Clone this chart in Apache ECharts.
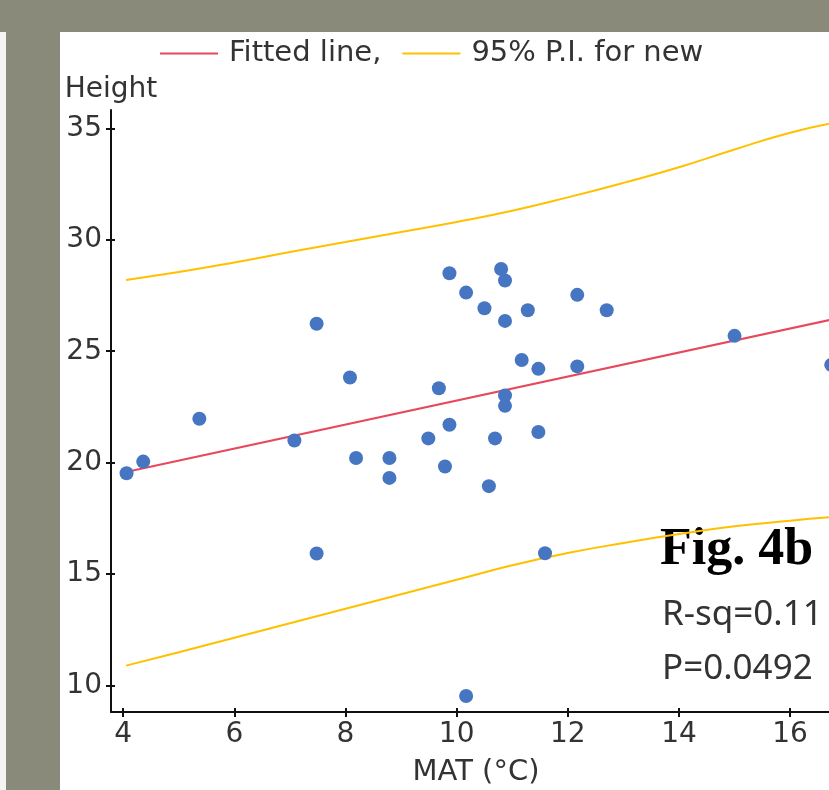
<!DOCTYPE html>
<html>
<head>
<meta charset="utf-8">
<script src="https://cdn.jsdelivr.net/npm/echarts@6/dist/echarts.min.js"></script>
<style>
  html, body { margin: 0; padding: 0; }
  body { width: 829px; height: 790px; background: #8a8a7a; position: relative; overflow: hidden; }
  .panel { position: absolute; left: 60px; top: 32px; right: 0; bottom: 0; background: #fff; }
  .edge { position: absolute; left: 0; top: 32px; width: 6px; bottom: 0; background: #f4f4f2; }
  #chart { position: absolute; left: 0; top: 0; width: 829px; height: 790px; }
</style>
</head>
<body>
<div class="edge"></div>
<div class="panel"></div>
<div id="chart"></div>
<script>
// observed points: MAT (°C) vs height
var matX = [4.06, 4.36, 5.37, 7.08, 7.48, 7.48, 8.08, 8.19, 8.79, 8.79, 9.49, 9.68, 9.87, 9.87, 9.79,
  10.17, 10.17, 10.5, 10.69, 10.58, 10.8, 10.87, 10.87, 10.87, 10.87, 11.17, 11.28, 11.47, 11.47,
  11.59, 12.17, 12.17, 12.7, 15.0, 16.74]
var heightY = [19.53, 20.05, 21.97, 21.0, 26.23, 15.93, 23.82, 20.21, 20.21, 19.32, 21.09, 23.34, 28.5, 21.7, 19.83,
  27.63, 9.54, 26.93, 21.09, 18.95, 28.69, 28.17, 26.36, 23.02, 22.55, 24.61, 26.84, 24.21, 21.38,
  15.94, 27.53, 24.32, 26.84, 25.69, 24.39]

// fitted line
var fitX = [4.05, 16.8]
var fitY = [19.58, 26.45]

// prediction interval
var piX = [4.05, 5, 6, 7, 8, 9, 10, 11, 12, 13, 14, 15, 16, 16.8]
var piUpper = [28.2, 28.55, 28.98, 29.45, 29.9, 30.35, 30.8, 31.3, 31.9, 32.55, 33.25, 34.05, 34.8, 35.25]
var piLower = [10.9, 11.5, 12.15, 12.8, 13.45, 14.1, 14.75, 15.4, 15.95, 16.4, 16.8, 17.15, 17.4, 17.57]

var xTicks = [4, 6, 8, 10, 12, 14, 16]
var yTicks = [10, 15, 20, 25, 30, 35]

var font = 'DejaVu Sans'
var textColor = '#333'

function pairs (xs, ys) {
  return xs.map(function (x, i) { return [x, ys[i]] })
}

var chart = echarts.init(document.getElementById('chart'))

// the picture is cut off at the right edge, so the axis stops there
var xBase = { type: 'value', min: 3.78, max: 16.7 }
var yBase = { type: 'value', min: 8.82, max: 35.82 }

var option = {
  backgroundColor: 'transparent',
  animation: false,
  legend: {
    left: 160,
    top: 39,
    padding: 0,
    icon: 'rect',
    itemWidth: 58,
    itemHeight: 2,
    itemGap: 21,
    textStyle: { fontFamily: font, fontSize: 29, color: textColor, padding: [0, 0, 0, 6] },
    data: ['Fitted line,', '95% P.I. for new']
  },
  grid: { left: 111, right: 0, top: 110, bottom: 78, outerBoundsMode: 'none' },
  xAxis: [
    Object.assign({}, xBase, {
      name: 'MAT (°C)',
      nameLocation: 'middle',
      nameGap: 46,
      nameTextStyle: { fontFamily: font, fontSize: 29, color: textColor, padding: [0, 0, 0, 12] },
      axisLine: { onZero: false, lineStyle: { color: '#111', width: 2 } },
      axisTick: { customValues: xTicks, length: 5, lineStyle: { color: '#111', width: 2 } },
      axisLabel: { customValues: xTicks, margin: 9, fontFamily: font, fontSize: 28, color: textColor },
      splitLine: { show: false }
    }),
    Object.assign({}, xBase, {
      position: 'bottom',
      axisLine: { show: false },
      axisTick: { customValues: xTicks, inside: true, length: 4, lineStyle: { color: '#111', width: 2 } },
      axisLabel: { show: false },
      splitLine: { show: false }
    })
  ],
  yAxis: [
    Object.assign({}, yBase, {
      name: 'Height',
      nameLocation: 'end',
      nameGap: 6,
      nameTextStyle: { fontFamily: font, fontSize: 28, color: textColor },
      axisLine: { onZero: false, lineStyle: { color: '#111', width: 2 } },
      axisTick: { customValues: yTicks, length: 5, lineStyle: { color: '#111', width: 2 } },
      axisLabel: { customValues: yTicks, margin: 9, fontFamily: font, fontSize: 28, color: textColor },
      splitLine: { show: false }
    }),
    Object.assign({}, yBase, {
      position: 'left',
      axisLine: { show: false },
      axisTick: { customValues: yTicks, inside: true, length: 4, lineStyle: { color: '#111', width: 2 } },
      axisLabel: { show: false },
      splitLine: { show: false }
    })
  ],
  graphic: [
    { type: 'text', left: 660, top: 525, style: { text: 'Fig. 4b', font: 'bold 52px "Liberation Serif"', fill: '#000' } },
    { type: 'text', left: 662, top: 598, style: { text: 'R-sq=0.11', font: '35px "Noto Sans"', fill: '#333' } },
    { type: 'text', left: 662, top: 652, style: { text: 'P=0.0492', font: '35px "Noto Sans"', fill: '#333' } }
  ],
  series: [
    {
      name: 'Fitted line,',
      type: 'line',
      showSymbol: false,
      data: pairs(fitX, fitY),
      lineStyle: { color: '#e8485c', width: 2 },
      itemStyle: { color: '#e8485c' },
      z: 3
    },
    {
      name: '95% P.I. for new',
      type: 'line',
      smooth: true,
      showSymbol: false,
      data: pairs(piX, piUpper),
      lineStyle: { color: '#ffc000', width: 2 },
      itemStyle: { color: '#ffc000' },
      z: 3
    },
    {
      name: '95% P.I. for new',
      type: 'line',
      smooth: true,
      showSymbol: false,
      data: pairs(piX, piLower),
      lineStyle: { color: '#ffc000', width: 2 },
      itemStyle: { color: '#ffc000' },
      z: 3
    },
    {
      name: 'points',
      type: 'scatter',
      symbolSize: 14,
      clip: false,
      data: pairs(matX, heightY),
      itemStyle: { color: '#4676c2', opacity: 1 },
      z: 4
    }
  ]
}

chart.setOption(option)
</script>
</body>
</html>
